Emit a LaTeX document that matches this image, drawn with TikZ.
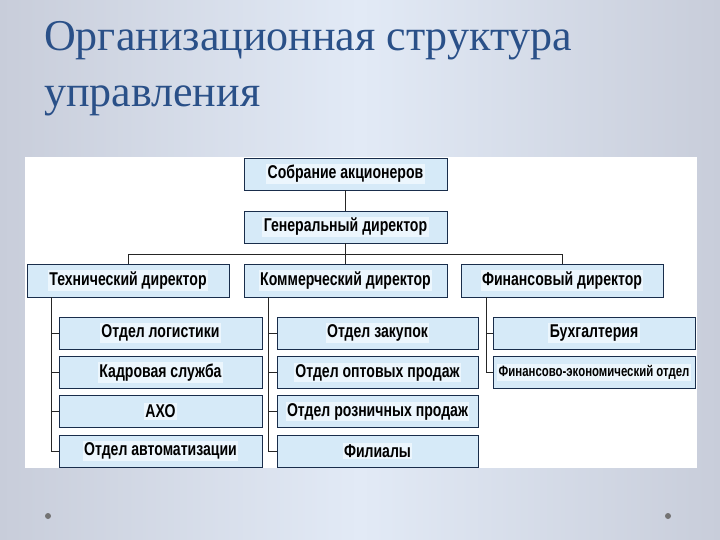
\documentclass[tikz,border=0pt]{standalone}
\usepackage{fontspec}
\setmainfont{Liberation Serif}
\newfontfamily\boxfont[FakeStretch=0.76]{Liberation Sans}
\usetikzlibrary{positioning}

\definecolor{titleblue}{RGB}{42,80,136}
\definecolor{boxfill}{RGB}{214,234,248}
\definecolor{boxhl}{RGB}{236,246,253}
\definecolor{boxline}{RGB}{25,45,75}
\definecolor{slideedge}{RGB}{200,205,218}
\definecolor{slidemid}{RGB}{226,234,246}
\newcommand\hltext[1]{{\setlength{\fboxsep}{1.5pt}\colorbox{boxhl}{#1}}}

\begin{document}
\begin{tikzpicture}[x=1pt,y=-1pt,
			unit/.style={
				rectangle,
				draw=boxline,
				fill=boxfill,
				line width=0.9pt,
				minimum width=203pt,
				minimum height=32pt,
				inner sep=0pt,
				font=\boxfont\bfseries\fontsize{18.5}{20}\selectfont
			},
			link/.style={
				draw=black!85,
				line width=0.8pt
			},
			heading/.style={
				anchor=base west,
				text=titleblue,
				inner sep=0pt,
				font=\fontsize{44}{50}\selectfont
			}
			]
			\shade[left color=slideedge, right color=slideedge, middle color=slidemid] (0,0) rectangle (720,540);
			\useasboundingbox (0,0) rectangle (720,540);
			\fill[white] (25,157) rectangle (697,468);
			
			\node[heading] (title1) at (44,51) {Организационная структура};
			\node[heading] (title2) at (44,107) {управления};
			
			\fill[black!55] (48,516) circle (3pt);
			\fill[black!55] (668,516) circle (3pt);
			
			\node[unit] (sobr) at (345.5,174) {\hltext{Собрание акционеров}};
			\node[unit] (gend) at (345.5,227) {\hltext{Генеральный директор}};
			\node[unit, minimum width=202pt, minimum height=33pt] (tech) at (128,280.5) {\hltext{Технический директор}};
			\node[unit, minimum height=33pt] (komm) at (345.5,280.5) {\hltext{Коммерческий директор}};
			\node[unit, minimum width=202pt, minimum height=33pt] (fin) at (562,280.5) {\hltext{Финансовый директор}};
			
			\begin{scope}
				\node[unit] (logist) at (160.5,333) {\hltext{Отдел логистики}};
				\node[unit] (kadr) at (160.5,372.5) {\hltext{Кадровая служба}};
				\node[unit] (aho) at (160.5,411.5) {\hltext{АХО}};
				\node[unit] (avto) at (160.5,451) {\hltext{Отдел автоматизации}};
			\end{scope}
			
			\begin{scope}
				\node[unit, minimum width=201pt] (zakup) at (377.5,333) {\hltext{Отдел закупок}};
				\node[unit, minimum width=201pt] (opt) at (377.5,372.5) {\hltext{Отдел оптовых продаж}};
				\node[unit, minimum width=201pt] (rozn) at (377.5,411.5) {\hltext{Отдел розничных продаж}};
				\node[unit, minimum width=201pt] (filial) at (377.5,451) {\hltext{Филиалы}};
			\end{scope}
			
			\begin{scope}
				\node[unit, minimum width=202pt] (buh) at (594,333) {\hltext{Бухгалтерия}};
				\node[unit, minimum width=202pt, font=\boxfont\bfseries\fontsize{15}{16}\selectfont] (feo) at (594,372.5) {\hltext{Финансово-экономический отдел}};
			\end{scope}
			
			\draw[link] (sobr) -- (gend);
			\draw[link] (gend) -- (komm);
			\coordinate (bus) at (345.5,254);
			\draw[link] (tech.north) -- (tech.north |- bus) -- (fin.north |- bus) -- (fin.north);
			
			\coordinate (lsp) at ([xshift=-7pt]logist.west);
			\coordinate (msp) at ([xshift=-8pt]zakup.west);
			\coordinate (rsp) at ([xshift=-6pt]buh.west);
			\draw[link] (lsp |- tech.south) -- (lsp |- avto.west) -- (avto.west);
			\draw[link] (msp |- komm.south) -- (msp |- filial.west) -- (filial.west);
			\draw[link] (rsp |- fin.south) -- (rsp |- feo.west) -- (feo.west);
			\foreach \n in {logist,kadr,aho}
				\draw[link] (lsp |- \n.west) -- (\n.west);
			\foreach \n in {zakup,opt,rozn}
				\draw[link] (msp |- \n.west) -- (\n.west);
			\draw[link] (rsp |- buh.west) -- (buh.west);
		\end{tikzpicture}
\end{document}
